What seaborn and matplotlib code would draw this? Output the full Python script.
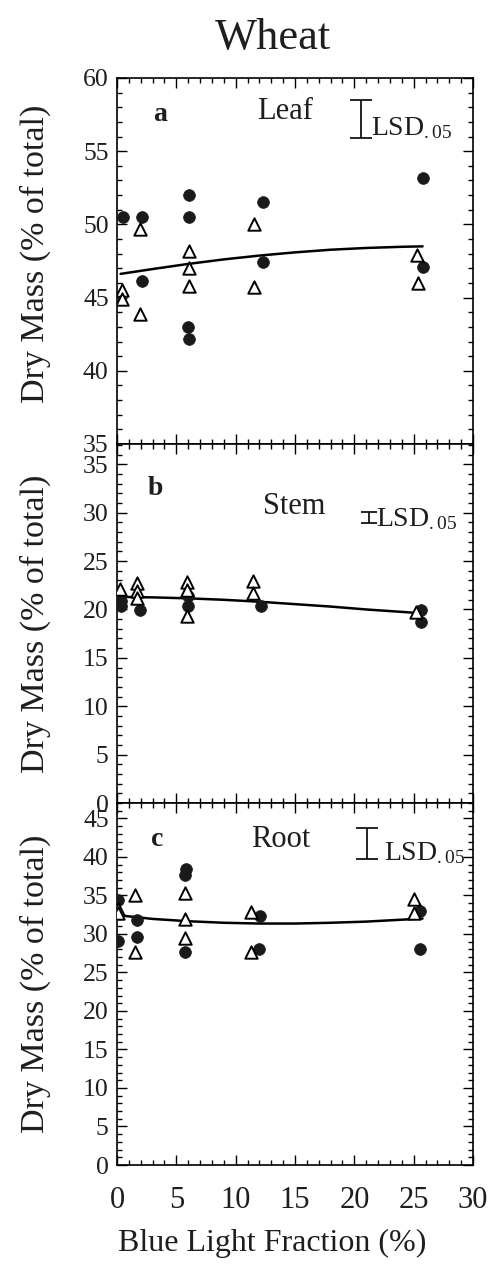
import matplotlib
matplotlib.use("Agg")
import matplotlib.pyplot as plt
from matplotlib.ticker import MultipleLocator
import seaborn as sns
import pandas as pd

# ---------------- data ----------------
# Panel a: Leaf
a_circ_x = [0.5, 2.1, 2.1, 6.1, 6.1, 6.0, 6.1, 12.3, 12.3, 25.75, 25.75]
a_circ_y = [50.5, 50.5, 46.1, 52.0, 50.5, 43.0, 42.2, 51.5, 47.4, 53.15, 47.1]
a_tri_x = [0.45, 0.45, 1.9, 1.9, 6.1, 6.1, 6.1, 11.55, 11.55, 25.3, 25.35]
a_tri_y = [45.5, 44.9, 49.7, 43.9, 48.2, 47.0, 45.8, 50.0, 45.7, 47.9, 46.0]

# Panel b: Stem
b_circ_x = [0.3, 0.3, 1.9, 6.0, 6.0, 12.1, 25.6, 25.6]
b_circ_y = [20.9, 20.4, 19.9, 21.4, 20.4, 20.35, 19.9, 18.7]
b_tri_x = [0.25, 1.7, 1.7, 1.7, 5.9, 5.9, 5.9, 11.5, 11.5, 25.2]
b_tri_y = [22.1, 22.7, 21.9, 21.2, 22.8, 22.0, 19.3, 22.9, 21.7, 19.7]

# Panel c: Root
c_circ_x = [0.1, 0.1, 1.7, 1.7, 5.8, 5.7, 5.75, 12.05, 12.0, 25.5, 25.5]
c_circ_y = [34.4, 29.1, 31.8, 29.6, 38.4, 37.7, 27.6, 32.3, 28.0, 33.0, 28.0]
c_tri_x = [0.05, 0.05, 1.55, 1.55, 5.75, 5.75, 5.75, 11.3, 11.3, 25.0, 25.0]
c_tri_y = [33.3, 32.7, 35.0, 27.7, 35.3, 32.0, 29.5, 32.8, 27.7, 34.6, 32.7]

# Fitted curves
curve_x = [0.3, 3, 6, 9, 12, 15, 18, 21, 24, 25.75]
curve_a = [46.62, 46.95, 47.30, 47.61, 47.87, 48.09, 48.27, 48.39, 48.47, 48.50]
curve_b = [21.3, 21.25, 21.15, 21.0, 20.8, 20.55, 20.3, 20.0, 19.75, 19.6]
curve_c = [32.4, 31.95, 31.65, 31.45, 31.35, 31.35, 31.45, 31.6, 31.85, 32.0]

# LSD(.05) magnitudes
lsd_values = [2.6, 1.2, 4.0]

panel_letters = ["a", "b", "c"]
panel_names = ["Leaf", "Stem", "Root"]
x_ticks = [0, 5, 10, 15, 20, 25, 30]
y_ticks_a = [35, 40, 45, 50, 55, 60]
y_ticks_b = [0, 5, 10, 15, 20, 25, 30, 35]
y_ticks_c = [0, 5, 10, 15, 20, 25, 30, 35, 40, 45]

title = "Wheat"
y_label = "Dry Mass (% of total)"
x_label = "Blue Light Fraction (%)"

# ---------------- style ----------------
sns.set_theme(style="ticks")
plt.rcParams["font.family"] = ["Liberation Serif", "DejaVu Serif"]
plt.rcParams["mathtext.fontset"] = "custom"
plt.rcParams["mathtext.rm"] = "Liberation Serif"
plt.rcParams["mathtext.it"] = "Liberation Serif:italic"
plt.rcParams["mathtext.bf"] = "Liberation Serif:bold"

TXT = "#1e1e1e"
fig = plt.figure(figsize=(4.92, 12.77), dpi=100)
W, H = 492.0, 1277.0
left, right = 117 / W, 473 / W
bounds = [(78, 444), (444, 803), (803, 1165)]
ylims = [(35, 60), (0, 37.1), (0, 47)]
yticks = [y_ticks_a, y_ticks_b, y_ticks_c]

panels = [
    (a_circ_x, a_circ_y, a_tri_x, a_tri_y, curve_a),
    (b_circ_x, b_circ_y, b_tri_x, b_tri_y, curve_b),
    (c_circ_x, c_circ_y, c_tri_x, c_tri_y, curve_c),
]
# layout of annotations (data coords of each panel)
letter_pos = [(3.6, 57.5), (3.2, 32.5), (3.35, 42.2)]
name_pos = [(14.2, 57.7), (14.9, 30.6), (13.8, 42.2)]
lsd_pos = [(20.6, 57.2), (21.2, 29.5), (21.1, 41.7)]
lsd_cap = [8, 6, 8]
lsd_text_pos = [(21.4, 56.6), (21.8, 29.3), (22.5, 40.5)]

for i, (cx, cy, tx, ty, cv) in enumerate(panels):
    top, bot = bounds[i]
    ax = fig.add_axes([left, 1 - bot / H, right - left, (bot - top) / H])
    df_c = pd.DataFrame({"x": cx, "y": cy})
    df_t = pd.DataFrame({"x": tx, "y": ty})
    df_l = pd.DataFrame({"x": curve_x, "y": cv})
    sns.lineplot(data=df_l, x="x", y="y", ax=ax, color="black", lw=1.8,
                 sort=True, estimator=None, zorder=2)
    sns.scatterplot(data=df_c, x="x", y="y", ax=ax, marker="o", s=72,
                    color="#1a1a1a", edgecolor="#1a1a1a", linewidth=0.5, zorder=3)
    sns.scatterplot(data=df_t, x="x", y="y", ax=ax, marker="^", s=80,
                    color="white", edgecolor="black", linewidth=1.4, zorder=4)

    ax.set_xlim(0, 30)
    ax.set_ylim(*ylims[i])
    ax.set_xticks(x_ticks)
    ax.set_yticks(yticks[i])
    ax.xaxis.set_minor_locator(MultipleLocator(1))
    ax.yaxis.set_minor_locator(MultipleLocator(1))
    ax.tick_params(which="both", direction="in", top=True, right=True,
                   color="black", width=1.0)
    ax.tick_params(which="major", length=7)
    ax.tick_params(which="minor", length=3.5)
    ax.tick_params(axis="y", labelsize=18.5, pad=6, labelcolor=TXT)
    ax.tick_params(axis="x", labelsize=22, pad=15, labelcolor=TXT)
    if i < 2:
        ax.tick_params(labelbottom=False)
    for sp in ax.spines.values():
        sp.set_linewidth(1.2)
        sp.set_color("black")
    ax.set_xlabel("")
    ax.set_ylabel(y_label, fontsize=24.5, color=TXT)
    ax.yaxis.set_label_coords(-0.185, 0.52 if i == 0 else 0.5)

    ax.text(*letter_pos[i], panel_letters[i], fontsize=20, fontweight="bold",
            ha="center", va="center", color=TXT)
    ax.text(*name_pos[i], panel_names[i], fontsize=22, ha="center", va="center",
            color=TXT)
    lx, ly = lsd_pos[i]
    ax.errorbar([lx], [ly], yerr=[lsd_values[i] / 2], fmt="none", ecolor="black",
                elinewidth=1.2, capsize=lsd_cap[i], capthick=1.2)
    ax.text(*lsd_text_pos[i], r"LSD$_{\mathrm{.05}}$", fontsize=20, ha="left",
            va="center", color=TXT)

fig.text(273 / W, 1 - 38 / H, title, fontsize=32, ha="center", va="center",
         color=TXT)
fig.text(272 / W, 1 - 1243 / H, x_label, fontsize=23, ha="center", va="center",
         color=TXT)

fig.savefig("out.png", dpi=100, facecolor="white")
